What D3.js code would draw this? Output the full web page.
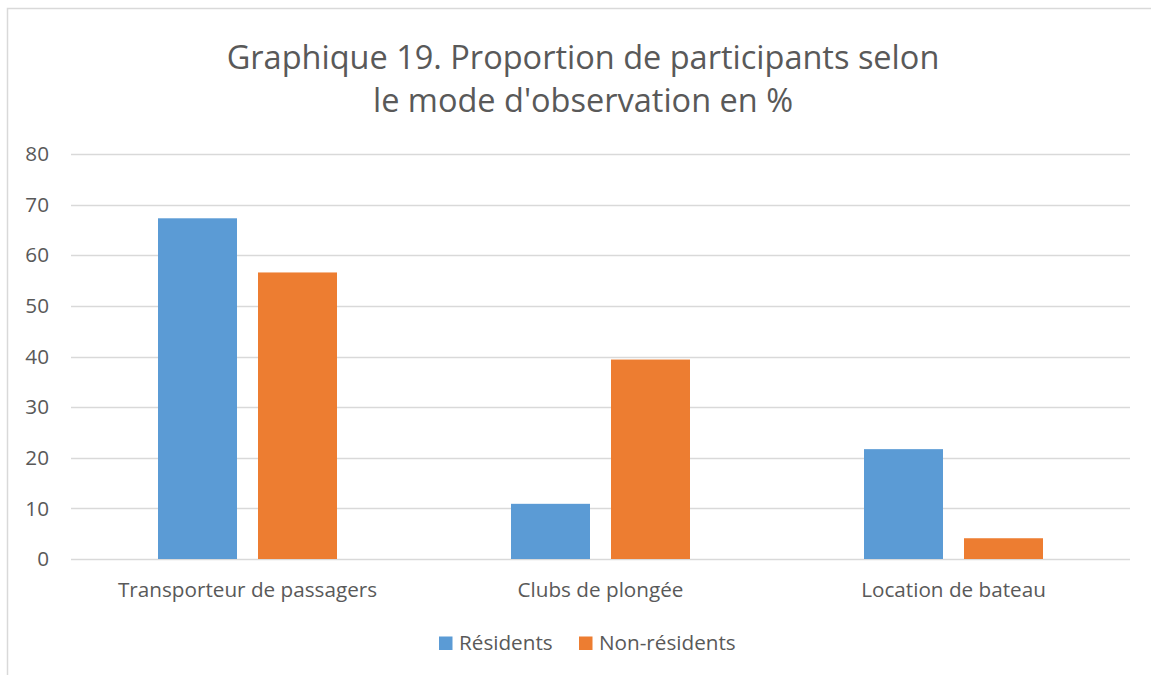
<!DOCTYPE html>
<html>
<head>
<meta charset="utf-8">
<script src="https://cdn.jsdelivr.net/npm/d3@7"></script>
<style>
  body { margin: 0; background: #fff; }
  text { font-family: "Open Sans", "Noto Sans", sans-serif; fill: #595959; }
</style>
</head>
<body>
<svg id="chart"></svg>
<script>
const categories = ["Transporteur de passagers", "Clubs de plongée", "Location de bateau"]
const series = ["Résidents", "Non-résidents"]
const residents = [67.3, 10.9, 21.7]
const nonResidents = [56.6, 39.4, 4.1]
const yTicks = [0, 10, 20, 30, 40, 50, 60, 70, 80]
const colors = ["#5B9BD5", "#ED7D31"]

var width = 1151,
    height = 675
var margin = { top: 154, right: 21, bottom: 116, left: 71 }
var fontSize = "20.7px"

var data = categories.map((c, i) => ({ cat: c, vals: [residents[i], nonResidents[i]] }))

var svg = d3.select("#chart")
    .attr("width", width)
    .attr("height", height)

// chart frame (only top and left visible)
svg.append("path")
    .attr("d", `M7.5,${height} V8.5 H${width}`)
    .attr("fill", "none")
    .attr("stroke", "#d9d9d9")
    .attr("stroke-width", 1.5)

var x0 = d3.scaleBand()
    .domain(categories)
    .range([margin.left, width - margin.right])

var x1 = d3.scaleBand()
    .domain(series)
    .range([0, x0.bandwidth()])
    .paddingInner(0.21)
    .paddingOuter(0.87)

var y = d3.scaleLinear()
    .domain([0, 80])
    .range([height - margin.bottom, margin.top])

// gridlines
svg.append("g")
    .selectAll("line")
    .data(yTicks)
    .join("line")
    .attr("x1", margin.left)
    .attr("x2", width - margin.right)
    .attr("y1", d => Math.round(y(d)) + 0.5)
    .attr("y2", d => Math.round(y(d)) + 0.5)
    .attr("stroke", "#d9d9d9")
    .attr("stroke-width", 1.5)

// y axis labels
var yAxis = d3.axisLeft(y).tickValues(yTicks).tickSize(0).tickPadding(22)
svg.append("g")
    .attr("transform", `translate(${margin.left},0)`)
    .call(yAxis)
    .call(g => g.select(".domain").remove())
    .selectAll("text")
    .style("font-family", '"Open Sans", sans-serif')
    .style("font-size", fontSize)
    .attr("fill", "#595959")

// bars
svg.append("g")
    .selectAll("g")
    .data(data)
    .join("g")
    .attr("transform", d => `translate(${x0(d.cat)},0)`)
    .selectAll("rect")
    .data(d => d.vals.map((v, i) => ({ s: series[i], v: v, i: i })))
    .join("rect")
    .attr("x", d => x1(d.s))
    .attr("y", d => y(d.v))
    .attr("width", x1.bandwidth())
    .attr("height", d => y(0) - y(d.v))
    .attr("fill", d => colors[d.i])

// x axis labels
var xAxis = d3.axisBottom(x0).tickSize(0).tickPadding(23)
svg.append("g")
    .attr("transform", `translate(0,${y(0)})`)
    .call(xAxis)
    .call(g => g.select(".domain").remove())
    .selectAll("text")
    .style("font-family", '"Open Sans", sans-serif')
    .style("font-size", fontSize)
    .attr("fill", "#595959")

// title
var title = svg.append("text")
    .attr("text-anchor", "middle")
    .style("font-size", "32.5px")
title.append("tspan").attr("x", 583).attr("y", 69).text("Graphique 19. Proportion de participants selon")
title.append("tspan").attr("x", 583).attr("y", 112).text("le mode d'observation en %")

// legend
var legendPos = [439, 579]
var legend = svg.append("g")
    .selectAll("g")
    .data(series)
    .join("g")
    .attr("transform", (d, i) => `translate(${legendPos[i]},636.5)`)
legend.append("rect")
    .attr("width", 13.5)
    .attr("height", 13.5)
    .attr("fill", (d, i) => colors[i])
legend.append("text")
    .attr("x", 20)
    .attr("y", 13.5)
    .style("font-size", fontSize)
    .text(d => d)
</script>
</body>
</html>
